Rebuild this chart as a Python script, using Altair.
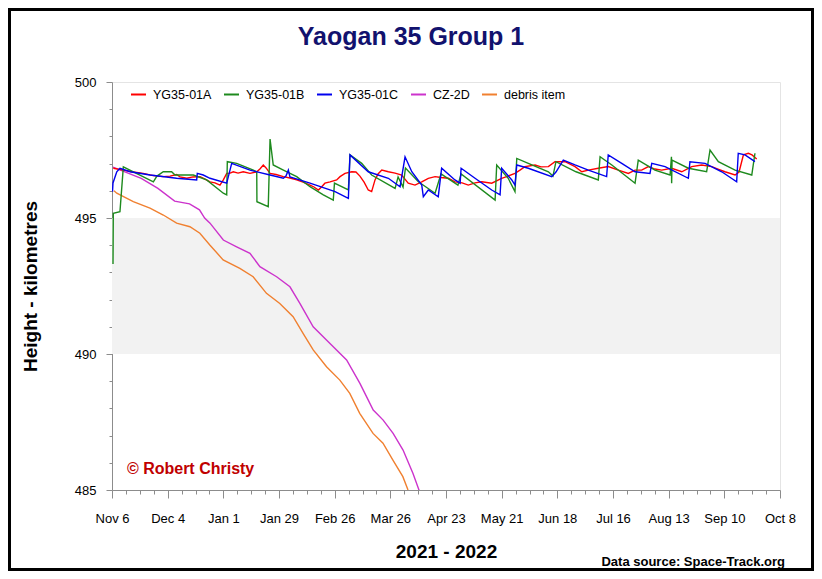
import altair as alt
import pandas as pd

T0 = 1636156800000  # 2021-11-06 00:00 UTC
DAY = 86400000

SERIES = ["YG35-01A", "YG35-01B", "YG35-01C", "CZ-2D", "debris item"]
COLORS = ["#ff0000", "#1e8a1e", "#0000ee", "#cc33cc", "#f08030"]

# YG35-01A (red): days since Nov 6 2021, height km
A_day = [0.65, 5.7, 10.7, 15.7, 20.8, 25.8, 29.2, 32.5, 34.2, 37.6, 40.7, 44.3, 46.8, 49.3,
         51.8, 54.3, 56.0, 57.7, 59.4, 61.0, 63.4, 66.0, 69.4, 72.8, 74.4, 76.1, 77.5, 79.5,
         82.5, 86.2, 89.5, 92.9, 96.1, 99.6, 101.6, 103.8, 105.5, 107.1, 109.7, 113.0, 114.7,
         117.2, 120.6, 122.7, 124.7, 126.8, 128.9, 130.6, 132.3, 133.8, 135.7, 139.0, 142.4,
         145.7, 149.0, 152.4, 155.8, 159.1, 162.5, 165.5, 169.2, 172.5, 176.1, 179.2, 182.6,
         186.0, 191.0, 196.0, 199.2, 202.7, 205.2, 207.7, 212.8, 215.8, 219.5, 222.8, 227.9,
         232.9, 236.3, 239.6, 244.6, 249.6, 254.7, 259.7, 263.1, 266.4, 269.8, 273.1, 276.5,
         281.5, 286.6, 291.6, 296.6, 301.7, 304.8, 308.3, 313.4, 315.4, 317.6, 320.1, 321.9,
         324.3]
A_h = [496.83, 496.76, 496.69, 496.64, 496.56, 496.52, 496.54, 496.60, 496.51, 496.46, 496.51,
       496.52, 496.43, 496.33, 496.29, 496.21, 496.40, 496.64, 496.65, 496.70, 496.65, 496.70,
       496.64, 496.70, 496.80, 496.95, 496.84, 496.64, 496.60, 496.52, 496.47, 496.40, 496.32,
       496.21, 496.14, 496.03, 496.15, 496.28, 496.33, 496.40, 496.52, 496.64, 496.70, 496.69,
       496.54, 496.32, 496.03, 495.97, 496.40, 496.62, 496.76, 496.70, 496.65, 496.58, 496.28,
       496.21, 496.33, 496.46, 496.52, 496.49, 496.46, 496.33, 496.29, 496.21, 496.29, 496.33,
       496.28, 496.46, 496.54, 496.64, 496.76, 496.89, 496.95, 496.88, 496.89, 497.07, 497.07,
       496.89, 496.70, 496.76, 496.83, 496.89, 496.76, 496.64, 496.76, 496.76, 496.89, 496.80,
       496.76, 496.83, 496.70, 496.89, 496.95, 496.89, 496.80, 496.70, 496.58, 496.69, 497.32,
       497.38, 497.32, 497.17]

# YG35-01B (green)
B_day = [0.5, 0.65, 4.0, 5.7, 20.8, 22.6, 25.8, 30.0, 31.7, 40.9, 47.6, 56.0, 57.7, 58.0, 62.7,
         71.1, 72.8, 72.9, 78.6, 79.5, 81.1, 86.2, 92.9, 99.6, 106.3, 111.3, 111.9, 118.9, 119.7,
         125.6, 130.6, 142.4, 143.9, 146.4, 147.6, 154.1, 162.5, 165.5, 174.0, 175.6, 192.7,
         193.5, 199.3, 202.7, 203.6, 209.4, 219.5, 221.8, 223.3, 233.4, 244.6, 245.5, 251.4,
         263.1, 264.7, 273.1, 280.7, 281.4, 281.5, 281.7, 289.9, 299.1, 300.8, 305.0, 313.4,
         321.8, 323.4]
B_h = [493.31, 495.17, 495.23, 496.88, 496.33, 496.54, 496.70, 496.70, 496.58, 496.58, 496.40,
       495.91, 495.85, 497.07, 497.01, 496.76, 496.70, 495.60, 495.42, 497.90, 496.95, 496.76,
       496.52, 496.15, 495.85, 495.66, 496.28, 496.03, 497.32, 497.01, 496.58, 496.09, 496.51,
       496.14, 496.84, 496.33, 495.91, 496.62, 496.21, 496.62, 495.66, 496.95, 496.46, 495.97,
       497.19, 497.01, 496.70, 496.54, 497.07, 496.70, 496.40, 497.25, 496.95, 496.28, 497.13,
       496.76, 496.58, 497.25, 496.28, 497.13, 496.83, 496.70, 497.50, 497.07, 496.76, 496.58,
       497.38]

# YG35-01C (blue)
C_day = [0.25, 0.5, 2.4, 4.0, 9.1, 19.1, 32.5, 42.6, 42.9, 45.9, 49.3, 57.7, 60.2, 69.4, 79.5,
         86.2, 87.5, 88.7, 89.5, 99.6, 112.2, 118.9, 119.7, 128.9, 139.0, 144.9, 147.4, 150.8,
         155.8, 156.6, 159.1, 164.1, 165.8, 172.5, 175.1, 175.6, 182.6, 191.0, 195.2, 196.0,
         201.1, 202.7, 203.6, 209.4, 221.2, 223.3, 227.0, 232.9, 239.6, 248.8, 249.6, 256.4,
         263.1, 270.6, 271.5, 278.2, 289.9, 290.7, 298.3, 306.7, 314.2, 315.0, 318.4, 323.4]
C_h = [495.97, 496.29, 496.70, 496.83, 496.70, 496.58, 496.46, 496.40, 496.64, 496.58, 496.46,
       496.28, 497.01, 496.76, 496.58, 496.46, 496.54, 496.76, 496.51, 496.28, 495.97, 495.72,
       497.32, 496.70, 496.46, 496.15, 497.25, 496.70, 496.21, 495.78, 496.03, 495.78, 496.83,
       496.40, 496.28, 496.83, 496.46, 496.03, 495.85, 496.83, 496.40, 496.21, 496.95, 496.83,
       496.52, 496.69, 497.13, 496.95, 496.76, 496.52, 497.32, 497.01, 496.70, 496.64, 497.01,
       496.89, 496.46, 497.07, 497.01, 496.70, 496.33, 497.38, 497.32, 497.07]

# CZ-2D (magenta)
M_day = [0.5, 14.7, 23.1, 31.5, 39, 44, 46.6, 49.3, 56, 62.7, 69.4, 74.4, 82.8, 89.5, 94.5,
         101.2, 108, 118, 124.7, 131.4, 136.4, 141.4, 146.4, 151.4, 154.7]
M_h = [496.87, 496.46, 496.09, 495.62, 495.52, 495.3, 495.0, 494.81, 494.19, 493.94, 493.70,
       493.21, 492.84, 492.47, 491.86, 491.00, 490.51, 489.78, 488.92, 487.94, 487.57, 487.08,
       486.47, 485.61, 484.94]

# debris item (orange)
O_day = [1, 2.4, 10.7, 19.1, 25.8, 32.5, 39.2, 44.2, 49.2, 55.9, 64.3, 71, 77.7, 84.4, 91.1,
         96.1, 101.2, 107.9, 114.6, 119.6, 124.6, 131.3, 136.3, 141.3, 146.3, 148.9]
O_h = [496.0, 495.91, 495.60, 495.36, 495.11, 494.81, 494.68, 494.44, 494.01, 493.46, 493.15,
       492.84, 492.23, 491.86, 491.37, 490.76, 490.15, 489.53, 489.04, 488.55, 487.82, 487.08,
       486.72, 486.10, 485.49, 485.00]

SPAN_DAYS = 336
Y_MIN, Y_MAX = 485, 500
BAND = (490, 495)


def frame(name, days, hs):
    assert len(days) == len(hs), name
    return pd.DataFrame({"series": name, "t": [T0 + d * DAY for d in days], "h": hs})


lines_df = pd.concat([
    frame("debris item", O_day, O_h),
    frame("CZ-2D", M_day, M_h),
    frame("YG35-01A", A_day, A_h),
    frame("YG35-01B", B_day, B_h),
    frame("YG35-01C", C_day, C_h),
], ignore_index=True)

weekly = [T0 + 7 * k * DAY for k in range(SPAN_DAYS // 7 + 1)]
major_test = "round((datum.value - %d) / %d) %% 28 == 0" % (T0, DAY)

FONT = "Liberation Sans"

x_scale = alt.Scale(type="utc", domain=[T0, T0 + SPAN_DAYS * DAY], nice=False)
y_scale = alt.Scale(domain=[Y_MIN, Y_MAX], nice=False, zero=False)

x_axis = alt.Axis(
    values=weekly,
    labelExpr="(%s) ? utcFormat(datum.value, '%%b %%-d') : ''" % major_test,
    tickSize={"condition": {"test": major_test, "value": 8}, "value": 4},
    labelPadding=14,
    labelFontSize=13,
    labelColor="black",
    labelOverlap=False,
    labelFlush=False,
    labelBound=False,
    grid=False,
    domainColor="#8c8c8c",
    tickColor="#8c8c8c",
    title="2021 - 2022",
    titleFontSize=19,
    titleFontWeight="bold",
    titleColor="black",
    titleX=334,
    titleY=61,
    titleAlign="center",
    titleBaseline="middle",
)

y_axis = alt.Axis(
    values=list(range(Y_MIN, Y_MAX + 1)),
    labelExpr="datum.value % 5 == 0 ? datum.value : ''",
    tickSize={"condition": {"test": "datum.value % 5 == 0", "value": 6}, "value": 3},
    labelPadding=10,
    labelFontSize=13,
    labelColor="black",
    labelOverlap=False,
    labelFlush=False,
    labelBound=False,
    grid=False,
    domainColor="#8c8c8c",
    tickColor="#8c8c8c",
    title="Height - kilometres",
    titleFontSize=19,
    titleFontWeight="bold",
    titleColor="black",
    titleAngle=270,
    titleX=-82,
    titleY=204,
    titleAlign="center",
    titleBaseline="middle",
)

x_enc = alt.X("t:T", scale=x_scale, axis=x_axis)
y_enc = alt.Y("h:Q", scale=y_scale, axis=y_axis)

band_df = pd.DataFrame({"t": [T0], "t2": [T0 + SPAN_DAYS * DAY], "h": [BAND[0]], "h2": [BAND[1]]})
band = alt.Chart(band_df).mark_rect(color="#f2f2f2").encode(
    x=x_enc, x2="t2", y=y_enc, y2="h2"
)

lines = alt.Chart(lines_df).mark_line(strokeWidth=1.4, clip=True).encode(
    x=x_enc,
    y=y_enc,
    color=alt.Color(
        "series:N",
        scale=alt.Scale(domain=SERIES, range=COLORS),
        legend=alt.Legend(
            orient="none",
            legendX=18,
            legendY=4,
            direction="horizontal",
            columns=5,
            title=None,
            symbolType="stroke",
            symbolSize=225,
            symbolStrokeWidth=2,
            labelFontSize=12.5,
            labelFont=FONT,
            labelColor="black",
            labelOffset=6,
            columnPadding=8,
            padding=0,
        ),
    ),
    detail="series:N",
)

credit_df = pd.DataFrame({"t": [T0 + 7.5 * DAY], "h": [485.6], "label": ["© Robert Christy"]})
credit = alt.Chart(credit_df).mark_text(
    align="left", baseline="alphabetic", font=FONT, fontSize=16, fontWeight="bold", color="#c00000"
).encode(x=x_enc, y=y_enc, text="label:N")

text_df = pd.DataFrame({"label": ["Data source: Space-Track.org"], "title": ["Yaogan 35 Group 1"]})
source = alt.Chart(text_df).mark_text(
    align="right", baseline="alphabetic", font=FONT, fontSize=13, fontWeight="bold", color="black"
).encode(x=alt.value(673), y=alt.value(484), text="label:N")

title = alt.Chart(text_df).mark_text(
    align="center", baseline="middle", font=FONT, fontSize=25, fontWeight="bold", color="#12126e"
).encode(x=alt.value(299), y=alt.value(-45), text="title:N")

border = alt.Chart(text_df).mark_rect(fillOpacity=0, stroke="black", strokeWidth=3).encode(
    x=alt.value(-102.5), x2=alt.value(700.5), y=alt.value(-72.5), y2=alt.value(487.5)
)

chart = alt.layer(band, lines, credit, source, title, border).properties(
    width=668,
    height=408,
    padding={"left": 104, "top": 74, "right": 34, "bottom": 81},
    autosize=alt.AutoSizeParams(type="none"),
).configure_view(stroke="#e4e4e4").configure_axis(labelFont=FONT, titleFont=FONT)

chart.save("out.html", embed_options={"renderer": "svg", "actions": False})
